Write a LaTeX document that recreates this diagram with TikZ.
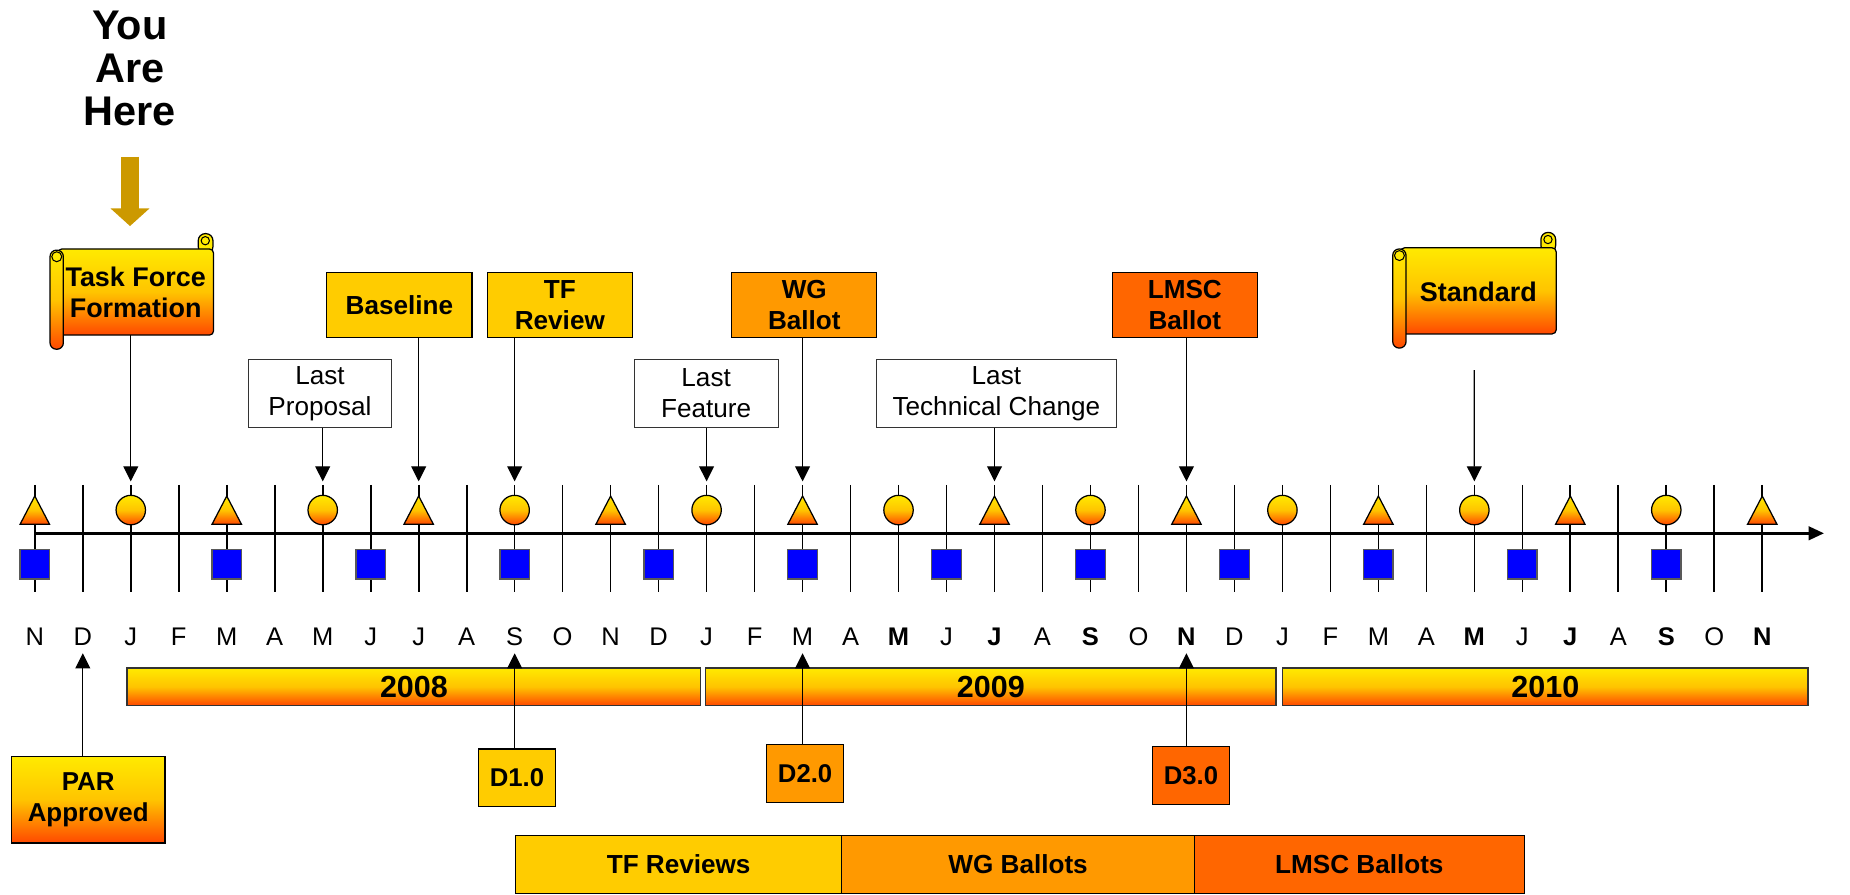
\documentclass[tikz,border=0pt]{standalone}
\usepackage{fontspec}
\setmainfont{Liberation Sans}
\usetikzlibrary{arrows.meta,positioning}

\definecolor{tfgold}{RGB}{255,204,0}
\definecolor{wgorange}{RGB}{255,153,0}
\definecolor{lmscred}{RGB}{255,102,0}
\definecolor{hottop}{RGB}{255,234,0}
\definecolor{hotmiddle}{RGB}{255,196,0}
\definecolor{hotbottom}{RGB}{255,72,0}
\definecolor{heregold}{RGB}{204,153,0}
\definecolor{qblue}{RGB}{0,0,255}

\begin{document}
\begin{tikzpicture}[
		x=0.02cm, y=-0.02cm,
		every node/.style={inner sep=0pt, align=center},
		hot/.style={top color=hottop, bottom color=hotbottom, middle color=hotmiddle},
		box/.style={draw, line width=0.6pt, minimum width=2.46cm, minimum height=1.1cm,
			font=\fontsize{12.6}{15}\selectfont\bfseries},
		note/.style={draw=black!80, line width=0.5pt, fill=white, minimum height=1.14cm,
			font=\fontsize{12.6}{15}\selectfont},
		draft/.style={draw, line width=0.6pt, minimum width=1.31cm, minimum height=0.98cm,
			font=\fontsize{12.4}{15}\selectfont\bfseries},
		year/.style={draw=black!80, line width=0.7pt, hot, minimum height=0.64cm,
			font=\fontsize{14.7}{16}\selectfont\bfseries},
		phase/.style={draw, line width=0.6pt, outer sep=0pt, minimum height=0.98cm,
			font=\fontsize{12.6}{15}\selectfont\bfseries},
		scrolltext/.style={minimum width=2.64cm, minimum height=1.46cm,
			font=\fontsize{13}{15}\selectfont\bfseries},
		pointer/.style={-{Triangle[width=7.2pt,length=7.3pt]}, line width=0.6pt},
		tick/.style={line width=0.8pt},
		moon/.style={circle, draw, line width=0.6pt, hot, minimum size=14.2pt},
		quarter/.style={rectangle, draw=black!65, line width=0.6pt, fill=qblue, minimum size=14.2pt},
		month/.style={anchor=base, font=\fontsize{12.3}{14}\selectfont},
		scrollbanner/.pic={
			\draw[fill=hottop, line width=0.6pt, rounded corners=3.4pt] (119,4) -- (119,-13) -- (131.5,-13) -- (131.5,4) -- cycle;
			\draw[hot, line width=0.6pt, rounded corners=2pt] (0,0) rectangle (132,73);
			\draw[hot, line width=0.6pt, rounded corners=3.1pt] (-6.6,1) rectangle (4.7,85);
			\draw[fill=hottop, line width=0.5pt] (125,-7) circle[radius=2pt];
			\draw[fill=hottop, line width=0.5pt] (-0.9,6.6) circle[radius=2.4pt];
		}
	]
  \useasboundingbox (0,0) rectangle (1568,758);

  % you are here
  \node (you_here) [font=\fontsize{20}{20.8}\selectfont\bfseries] at (110,58) {You\\Are\\Here};
  \coordinate (here_tail) at (110.2,132.8);
  \coordinate (here_tip) at (110.2,191.6);
  \draw[heregold, line width=8.9pt, -{Triangle[width=18.3pt,length=8.5pt]}] (here_tail) -- (here_tip);

  % time line
  \foreach \i [evaluate=\i as \xx using 29.5+40.67*\i] in {0,...,36} {
    \draw[tick] (\xx,411) -- (\xx,501.5);
    \coordinate (top_\i) at (\xx,408);
    \coordinate (bot_\i) at (\xx,553.7);
  }
  \coordinate (axis_start) at (29.5,452);
  \coordinate (axis_end) at (1546,452);
  \draw[line width=1.45pt, -{Triangle[width=6.5pt,length=7.5pt]}] (axis_start) -- (axis_end);

  \foreach \i [evaluate=\i as \xx using 29.5+40.67*\i] in {0,4,...,36}
    \draw[hot, line width=0.6pt] (\xx-12.5,444.4) -- (\xx+12.5,444.4) -- (\xx,420.4) -- cycle;
  \foreach \i [evaluate=\i as \xx using 29.5+40.67*\i] in {2,6,...,34}
    \node (moon_\i) [moon] at (\xx,432.3) {};
  \foreach \i [evaluate=\i as \xx using 29.5+40.67*\i] in {0,4,7,...,34}
    \node (quarter_\i) [quarter] at (\xx,478.3) {};

  \foreach \m [count=\i from 0, evaluate=\i as \xx using 29.5+40.67*\i] in
      {N,D,J,F,M,A,M,J,J,A,S,O,N,D,J,F,M,A,\bfseries M,J,\bfseries J,A,\bfseries S,O,\bfseries N,
       D,J,F,M,A,\bfseries M,J,\bfseries J,A,\bfseries S,O,\bfseries N}
    \node (month_\i) [month] at (\xx,546.7) {\m};

  % milestones above
  \pic at (49,211) {scrollbanner};
  \pic at (1187,210) {scrollbanner};
  \node (task_force) [scrolltext] at (115,247.5) {Task Force\\Formation};
  \node (standard) [scrolltext] at (1253,247.5) {Standard};
  \coordinate (standard_stem) at (1249.6,313.6);

  \node (baseline) [box, fill=tfgold] at (338.5,258.5) {Baseline};
  \node (tf_review) [box, fill=tfgold] at (474.5,258.5) {TF\\Review};
  \node (wg_ballot) [box, fill=wgorange] at (681.7,258.5) {WG\\Ballot};
  \node (lmsc_ballot) [box, fill=lmscred] at (1004.2,258.5) {LMSC\\Ballot};
  \node (last_proposal) [note, minimum width=2.43cm] at (271.2,333.5) {Last\\Proposal};
  \node (last_feature) [note, minimum width=2.44cm] at (598.5,333.5) {Last\\Feature};
  \node (last_change) [note, minimum width=4.08cm] at (844.5,333.5) {Last\\Technical Change};

  \draw[pointer] (task_force.south -| top_2) -- (top_2);
  \draw[pointer] (last_proposal.south -| top_6) -- (top_6);
  \draw[pointer] (baseline.south -| top_8) -- (top_8);
  \draw[pointer] (tf_review.south -| top_10) -- (top_10);
  \draw[pointer] (last_feature.south -| top_14) -- (top_14);
  \draw[pointer] (wg_ballot.south -| top_16) -- (top_16);
  \draw[pointer] (last_change.south -| top_20) -- (top_20);
  \draw[pointer] (lmsc_ballot.south -| top_24) -- (top_24);
  \draw[pointer] (standard_stem) -- (top_30);

  % years
  \node (y_2008) [year, minimum width=9.726cm] at (350.8,582) {2008};
  \node (y_2009) [year, minimum width=9.672cm] at (839.8,582) {2009};
  \node (y_2010) [year, minimum width=8.91cm] at (1309.8,582) {2010};

  % drafts below
  \node (par_approved) [draw, hot, line width=0.7pt, minimum width=2.61cm, minimum height=1.47cm,
    font=\fontsize{12.5}{15.3}\selectfont\bfseries] at (74.8,677.8) {PAR\\Approved};
  \node (d_one) [draft, fill=tfgold] at (438.2,659.3) {D1.0};
  \node (d_two) [draft, fill=wgorange] at (682.4,655.5) {D2.0};
  \node (d_three) [draft, fill=lmscred] at (1009.4,657.5) {D3.0};

  \draw[pointer] (par_approved.north -| bot_1) -- (bot_1);
  \draw[pointer] (d_one.north -| bot_10) -- (bot_10);
  \draw[pointer] (d_two.north -| bot_16) -- (bot_16);
  \draw[pointer] (d_three.north -| bot_24) -- (bot_24);

  % phases
  \node (tf_reviews) [phase, fill=tfgold, minimum width=5.528cm] at (575.2,732.5) {TF Reviews};
  \node (wg_ballots) [phase, fill=wgorange, minimum width=5.982cm, right=0pt of tf_reviews] {WG Ballots};
  \node (lmsc_ballots) [phase, fill=lmscred, minimum width=5.59cm, right=0pt of wg_ballots] {LMSC Ballots};
\end{tikzpicture}
\end{document}
